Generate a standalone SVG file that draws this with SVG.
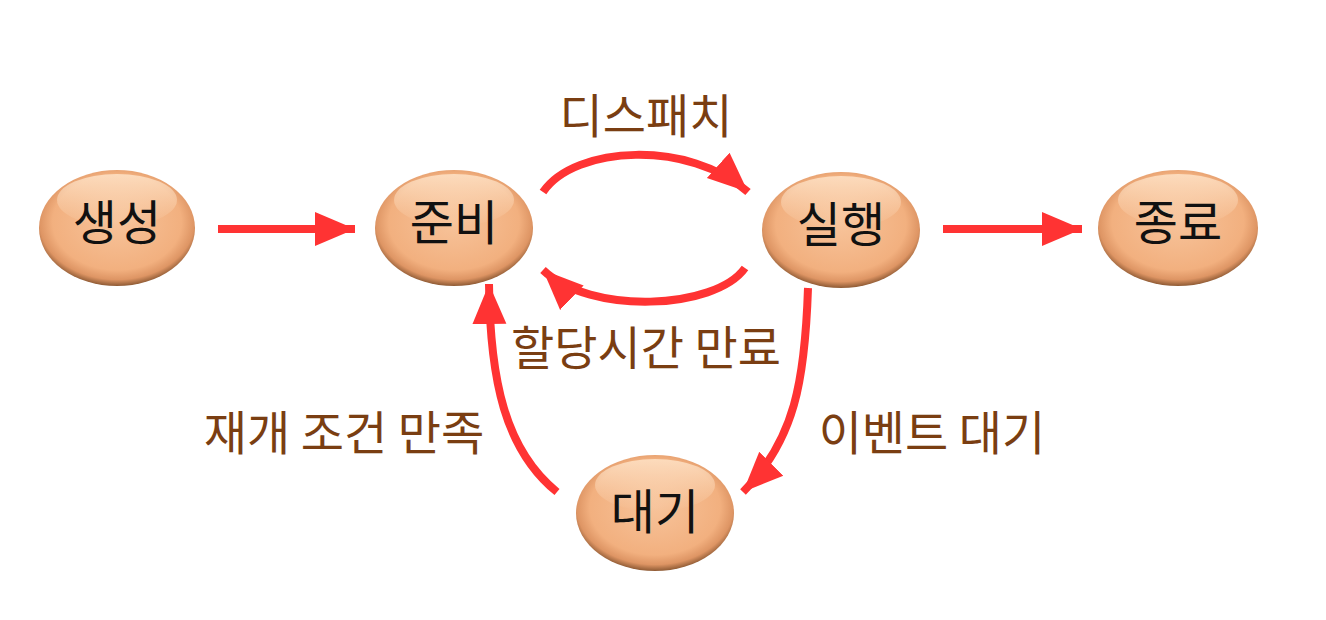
<svg xmlns="http://www.w3.org/2000/svg" width="1326" height="620" viewBox="0 0 1326 620">
<defs>
<radialGradient id="g" cx="0.5" cy="0.45" r="0.55">
<stop offset="0" stop-color="#F7C39A"/>
<stop offset="0.75" stop-color="#F2B07F"/>
<stop offset="0.9" stop-color="#DE9564"/>
<stop offset="1" stop-color="#8E5A34"/>
</radialGradient>
<linearGradient id="hl" x1="0" y1="0" x2="0" y2="1">
<stop offset="0" stop-color="#FFE6CC" stop-opacity="0.8"/>
<stop offset="1" stop-color="#FFE6CC" stop-opacity="0"/>
</linearGradient>
<marker id="ah" markerUnits="userSpaceOnUse" markerWidth="44" markerHeight="38" refX="40" refY="19" orient="auto">
<path d="M0,2 L40,19 L0,36 Z" fill="#FF3333"/>
</marker>
</defs>
<style>
.node ellipse.b{fill:url(#g);}
.node ellipse.h{fill:url(#hl);}
.node text{font-family:"Noto Sans CJK KR","Noto Sans",sans-serif;font-size:48px;fill:#111;text-anchor:middle;}
.lbl{font-family:"Noto Sans CJK KR","Noto Sans",sans-serif;font-size:47px;fill:#7A3E12;}
.c path{fill:none;stroke:#FF3333;stroke-width:8;marker-end:url(#ah);}
</style>
<rect width="1326" height="620" fill="#fff"/>
<g class="c" id="connectors">
<path d="M218,229 L355,229"/>
<path d="M943,229 L1082,229"/>
<path d="M543,192 C575,145 690,140 748,192"/>
<path d="M745,268 C715,310 590,315 543,270"/>
<path d="M808,288 C805,380 795,440 743,492"/>
<path d="M557,492 C505,450 490,380 489,284"/>
</g>
<g class="node" id="n-create">
<ellipse class="b" cx="117" cy="228" rx="78" ry="58"/>
<ellipse class="h" cx="117" cy="200" rx="60" ry="26"/>
<text x="117" y="240">생성</text>
</g>
<g class="node" id="n-ready">
<ellipse class="b" cx="454" cy="228" rx="79" ry="58"/>
<ellipse class="h" cx="454" cy="200" rx="60" ry="26"/>
<text x="454" y="240">준비</text>
</g>
<g class="node" id="n-run">
<ellipse class="b" cx="841" cy="230" rx="79" ry="58"/>
<ellipse class="h" cx="841" cy="202" rx="60" ry="26"/>
<text x="841" y="242">실행</text>
</g>
<g class="node" id="n-exit">
<ellipse class="b" cx="1178" cy="228" rx="80" ry="58"/>
<ellipse class="h" cx="1178" cy="200" rx="60" ry="26"/>
<text x="1178" y="240">종료</text>
</g>
<g class="node" id="n-wait">
<ellipse class="b" cx="655" cy="513" rx="79" ry="58"/>
<ellipse class="h" cx="655" cy="485" rx="60" ry="26"/>
<text x="655" y="529">대기</text>
</g>
<g id="labels">
<text class="lbl" x="646" y="133" text-anchor="middle">디스패치</text>
<text class="lbl" x="646" y="365" text-anchor="middle">할당시간 만료</text>
<text class="lbl" x="344" y="450" text-anchor="middle">재개 조건 만족</text>
<text class="lbl" x="932" y="450" text-anchor="middle">이벤트 대기</text>
</g>
</svg>
